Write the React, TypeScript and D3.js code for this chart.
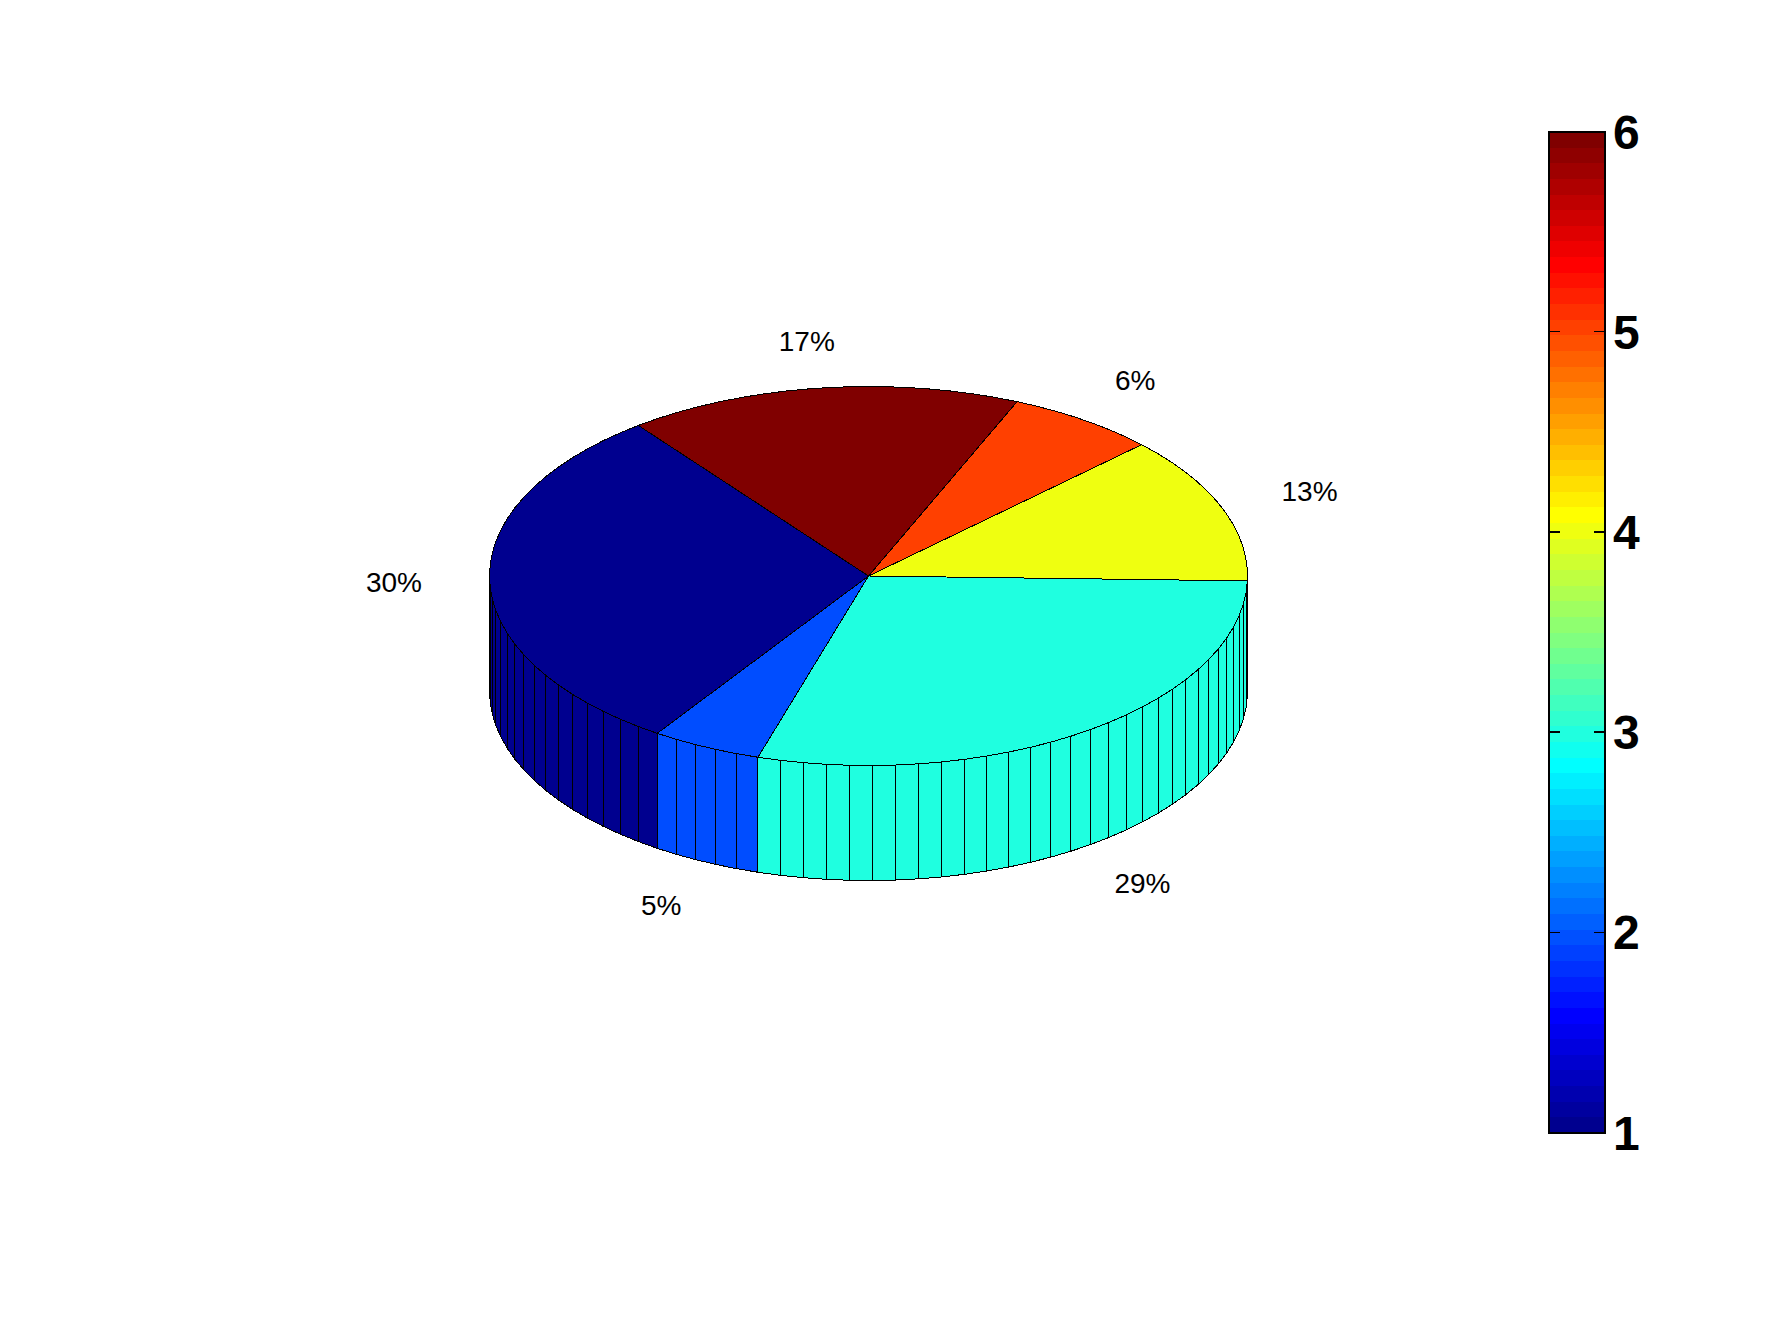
import React from "react";
import * as d3 from "d3";

const labels = ["30%", "5%", "29%", "13%", "6%", "17%"];
const shares = [30.2, 4.7, 29.3, 12.6, 6.4, 16.8];
const sliceColors = ["#00008f", "#004dff", "#1fffe0", "#efff10", "#ff4000", "#800000"];
const labelNudgeX = [-20, -12, 8, 17, 8.5, -5];
const labelNudgeY = [0, 9, 8, -2.5, -8, -9];
const colorbarTicks = [1, 2, 3, 4, 5, 6];
const colorbarLevels = d3.range(64);

const W = 1778, H = 1334;
const CX = 868.5, CY = 576, RX = 379, RY = 189.5, DEPTH = 115;
const START_DEG = 127.4;
const rad = Math.PI / 180;

function jet(i: number) {
  const v = (i + 1) / 64 * 4; // 0..4 MATLAB jet(64)
  const c = (x: number) => Math.max(0, Math.min(1, Math.min(x + 1.5 - 0, -x + 1.5 + 0)));
  const r = c(v - 3), g = c(v - 2), b = c(v - 1);
  return d3.rgb(Math.round(r * 255), Math.round(g * 255), Math.round(b * 255)).formatHex();
}

const pt = (deg: number, z = 0): [number, number] => [
  CX + RX * Math.cos(deg * rad),
  CY - RY * Math.sin(deg * rad) + z,
];

export default function App() {
  const total = d3.sum(shares);
  const angle = d3.scaleLinear().domain([0, total]).range([0, 360]);
  const cum = d3.cumsum(shares);
  const line = d3.line();
  const slices = shares.map((s, i) => {
    const a0 = START_DEG + angle(i ? cum[i - 1] : 0);
    const a1 = START_DEG + angle(cum[i]);
    const n = Math.max(1, Math.ceil(s));
    const steps = d3.range(n + 1).map((k) => a0 + ((a1 - a0) * k) / n);
    return { i, a0, a1, steps };
  });
  const cbY = d3.scaleLinear().domain([1, 6]).range([1132.5, 131.5]);
  const cbL = 1549, cbR = 1605;
  const lvlH = (cbY(1) - cbY(6)) / 64;

  return (
    <svg width={W} height={H} viewBox={`0 0 ${W} ${H}`} style={{ position: "absolute", left: 0, top: 0, background: "#fff" }}>
      {slices.map((sl) =>
        sl.steps.slice(0, -1).map((a, k) => {
          const b = sl.steps[k + 1];
          if (Math.sin(a * rad) > 0.02 && Math.sin(b * rad) > 0.02) return null;
          return (
            <path
              key={`f${sl.i}-${k}`}
              d={line([pt(a), pt(b), pt(b, DEPTH), pt(a, DEPTH)]) + "Z"}
              fill={sliceColors[sl.i]}
              stroke="#000"
              strokeWidth={1}
              shapeRendering="crispEdges"
            />
          );
        })
      )}
      {slices.map((sl) => (
        <path
          key={`t${sl.i}`}
          d={line([[CX, CY], ...sl.steps.map((a) => pt(a))]) + "Z"}
          fill={sliceColors[sl.i]}
          stroke="#000"
          strokeWidth={1}
          strokeLinejoin="round"
          shapeRendering="crispEdges"
        />
      ))}
      {slices.map((sl) => {
        const mid = (sl.a0 + sl.a1) / 2;
        const [x, y] = [CX + 1.2 * RX * Math.cos(mid * rad), CY - 1.2 * RY * Math.sin(mid * rad)];
        const low = Math.sin(mid * rad) < -0.5;
        return (
          <text
            key={`l${sl.i}`}
            x={x + labelNudgeX[sl.i]}
            y={y + (low ? DEPTH : 0) + labelNudgeY[sl.i]}
            fontFamily="Liberation Sans"
            fontSize={28}
            textAnchor="middle"
            dominantBaseline="central"
            fill="#000"
          >
            {labels[sl.i]}
          </text>
        );
      })}
      {colorbarLevels.map((l) => (
        <rect
          key={l}
          x={cbL}
          width={cbR - cbL}
          y={cbY(1) - (l + 1) * lvlH}
          height={lvlH + 0.5}
          fill={jet(l)}
          shapeRendering="crispEdges"
        />
      ))}
      <rect x={cbL} y={cbY(6)} width={cbR - cbL} height={cbY(1) - cbY(6)} fill="none" stroke="#000" strokeWidth={2} shapeRendering="crispEdges" />
      {colorbarTicks.map((t) => (
        <g key={t}>
          <line x1={cbL} x2={cbL + 11} y1={cbY(t)} y2={cbY(t)} stroke="#000" strokeWidth={1.5} shapeRendering="crispEdges" />
          <line x1={cbR - 11} x2={cbR} y1={cbY(t)} y2={cbY(t)} stroke="#000" strokeWidth={1.5} shapeRendering="crispEdges" />
          <text
            x={1613}
            y={cbY(t) + 17}
            fontFamily="Liberation Sans"
            fontWeight="bold"
            fontSize={48}
            fill="#000"
          >
            {t}
          </text>
        </g>
      ))}
    </svg>
  );
}
